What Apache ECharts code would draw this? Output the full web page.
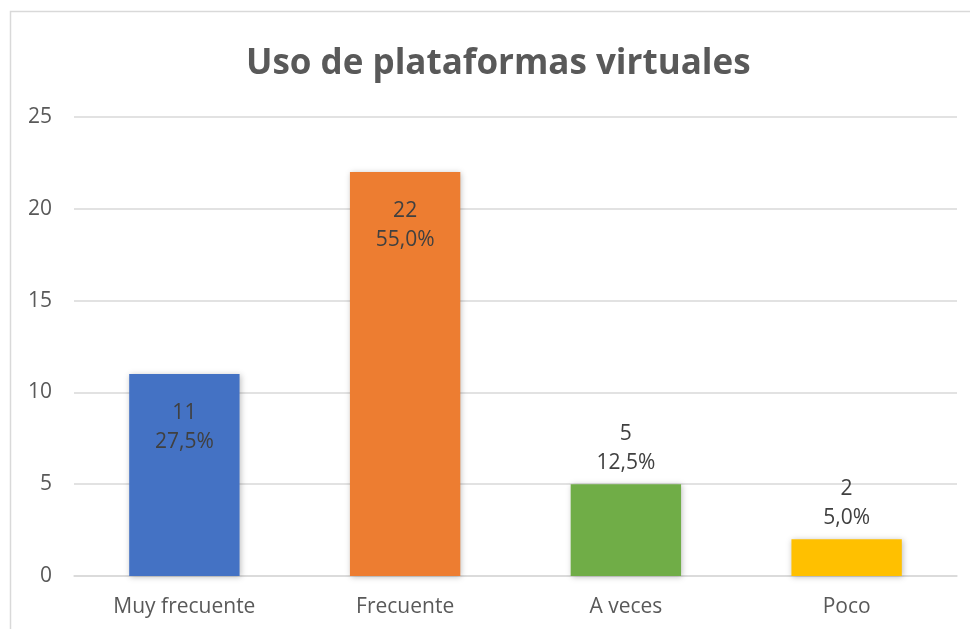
<!DOCTYPE html>
<html>
<head>
<meta charset="utf-8">
<script src="https://cdn.jsdelivr.net/npm/echarts@6/dist/echarts.min.js"></script>
<style>
html,body{margin:0;padding:0;background:#fff;}
#chart{width:970px;height:629px;}
</style>
</head>
<body>
<div id="chart"></div>
<script>

// datos del gráfico
const categorias = ["Muy frecuente", "Frecuente", "A veces", "Poco"];
const cantidades = [11, 22, 5, 2];
const porcentajes = ["27,5%", "55,0%", "12,5%", "5,0%"];
const colores = ["#4472C4", "#ED7D31", "#70AD47", "#FFC000"];
const posiciones = ["insideTop", "insideTop", "top", "top"];

const dom = document.getElementById("chart");
const chart = echarts.init(dom);

const fuente = "'Open Sans', Lato, sans-serif";

chart.setOption({
  animation: false,
  title: {
    text: "Uso de plataformas virtuales",
    left: 241,
    top: 42,
    textStyle: {
      fontFamily: fuente,
      fontSize: 35,
      fontWeight: "bold",
      color: "#595959"
    }
  },
  graphic: [{
    type: "rect",
    shape: { x: 10.5, y: 11.5, width: 980, height: 640 },
    style: { fill: "none", stroke: "#d9d9d9", lineWidth: 1.5 }
  }],
  grid: {
    left: 74,
    right: 13,
    top: 117,
    bottom: 53
  },
  xAxis: {
    type: "category",
    data: categorias,
    axisTick: { show: false },
    axisLine: { lineStyle: { color: "#d9d9d9", width: 1.5 } },
    axisLabel: {
      fontFamily: fuente,
      fontSize: 21,
      color: "#595959",
      margin: 21
    }
  },
  yAxis: {
    type: "value",
    min: 0,
    max: 25,
    interval: 5,
    axisLine: { show: false },
    axisTick: { show: false },
    splitLine: { lineStyle: { color: "#d9d9d9", width: 1.5 } },
    axisLabel: {
      fontFamily: fuente,
      fontSize: 21,
      color: "#595959",
      margin: 22
    }
  },
  series: [{
    type: "bar",
    barWidth: "50%",
    data: cantidades.map((v, i) => ({
      value: v,
      itemStyle: {
        color: colores[i],
        shadowColor: "rgba(0,0,0,0.25)",
        shadowBlur: 6,
        shadowOffsetX: 1,
        shadowOffsetY: 1
      },
      label: {
        position: posiciones[i],
        distance: posiciones[i] === "top" ? 7 : 24
      }
    })),
    label: {
      show: true,
      fontFamily: fuente,
      fontSize: 21,
      color: "#404040",
      lineHeight: 29,
      formatter: p => p.value + "\n" + porcentajes[p.dataIndex]
    }
  }]
});

window.addEventListener("resize", () => chart.resize());
</script>
</body>
</html>
